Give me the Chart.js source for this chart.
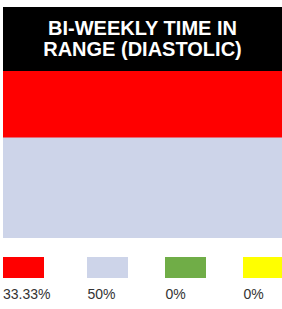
<!DOCTYPE html>
<html>
<head>
<meta charset="utf-8">
<script src="https://cdn.jsdelivr.net/npm/chart.js@4/dist/chart.umd.min.js"></script>
<style>
  html, body { margin: 0; padding: 0; background: #fff; width: 282px; height: 309px; overflow: hidden; }
  #title {
    position: absolute; left: 3px; top: 7px; width: 279px; height: 64px;
    background: #000; color: #fff;
    font-family: "Liberation Sans", Arial, sans-serif; font-weight: bold; font-size: 20px; line-height: 21px;
    display: flex; align-items: center; justify-content: center; text-align: center;
  }
  #wrap { position: absolute; left: 3px; top: 71px; width: 279px; height: 167px; }
  #legend {
    position: absolute; left: 3px; top: 257px; display: flex; gap: 37px;
    font-family: "Liberation Sans", Arial, sans-serif; font-size: 14px; line-height: 16px; color: #333;
  }
  .item { display: flex; flex-direction: column; align-items: flex-start; }
  .box { width: 41px; height: 21px; }
  .lbl { margin-top: 8px; white-space: nowrap; }
</style>
</head>
<body>
<div id="title">BI-WEEKLY TIME IN<br>RANGE (DIASTOLIC)</div>
<div id="wrap"><canvas id="c"></canvas></div>
<div id="legend"></div>
<script>
const categories = ["Time in Range"];
const seriesNames = ["High", "In Range", "Low", "Very Low"];
const seriesValues = [33.33, 50, 0, 0];
const seriesColors = ["#FF0000", "#CDD4E9", "#70AD47", "#FFFF00"];
const legendLabels = ["33.33%", "50%", "0%", "0%"];

const total = seriesValues.reduce((a, b) => a + b, 0);

// stacked: first dataset sits at the bottom, so build bottom-up (red on top)
const stackOrder = [1, 0, 2, 3];
const datasets = stackOrder.map(i => ({
  label: seriesNames[i],
  data: [seriesValues[i]],
  backgroundColor: seriesColors[i],
  borderWidth: 0,
  barPercentage: 1,
  categoryPercentage: 1
}));

new Chart(document.getElementById('c'), {
  type: 'bar',
  data: { labels: categories, datasets },
  options: {
    responsive: true,
    maintainAspectRatio: false,
    animation: false,
    layout: { padding: 0 },
    plugins: { legend: { display: false }, tooltip: { enabled: false }, title: { display: false } },
    scales: {
      x: { stacked: true, display: false },
      y: { stacked: true, display: false, min: 0, max: total }
    }
  }
});

const legend = document.getElementById('legend');
seriesValues.forEach((v, i) => {
  const item = document.createElement('div');
  item.className = 'item';
  const box = document.createElement('div');
  box.className = 'box';
  box.style.background = seriesColors[i];
  const lbl = document.createElement('div');
  lbl.className = 'lbl';
  lbl.textContent = legendLabels[i];
  item.appendChild(box);
  item.appendChild(lbl);
  legend.appendChild(item);
});
</script>
</body>
</html>
